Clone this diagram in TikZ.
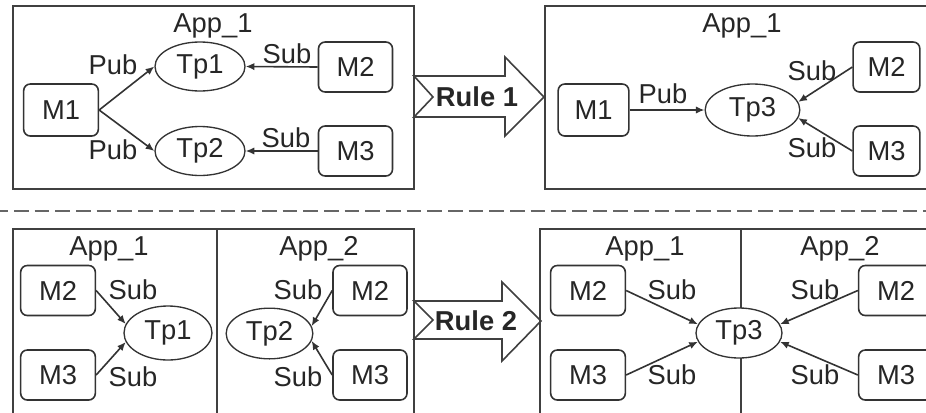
\documentclass[tikz,border=0pt]{standalone}
\usepackage{fontspec}
\setmainfont{Liberation Sans}
\usetikzlibrary{arrows.meta,shapes.geometric}
\tikzset{
  txt/.style={font=\fontsize{20.5}{24}\selectfont, text=black!85},
  frame/.style={draw=black!75, line width=1.4pt},
  module/.style={txt, draw=black!80, line width=1.2pt, rounded corners=5pt, fill=white,
    minimum height=37.5pt, minimum width=56pt, inner sep=0pt},
  topic/.style={txt, ellipse, draw=black!80, line width=1pt, fill=white, inner sep=0pt},
  lbl/.style={txt, anchor=base, inner sep=0pt},
  link/.style={draw=black!80, line width=1.2pt, -{Latex[length=6.5pt,width=5.5pt]}},
  rulearrow/.style={draw=black!75, line width=1.2pt, fill=white, line join=miter},
  rulelbl/.style={txt, font=\fontsize{20.5}{24}\selectfont\bfseries, inner sep=0pt},
  dashline/.style={draw=black!60, line width=2pt, dash pattern=on 11pt off 4.5pt, dash phase=5pt},
}
\begin{document}
\begin{tikzpicture}[x=0.75pt,y=-0.75pt]
\clip (0,0) rectangle (926,412);

% ---------- upper half: Rule 1 ----------
\draw[frame] (13,6) rectangle (414,189);
\node[lbl] (appA) at (213,32) {App\_1};
\node[module, minimum height=39pt] (m1a) at (61,110) {M1};
\node[module, minimum width=55.5pt] (m2a) at (355.5,67) {M2};
\node[module, minimum width=55.5pt] (m3a) at (355.5,151) {M3};
\node[topic, minimum width=67.5pt, minimum height=36.75pt] (tp1a) at (200,66.5) {Tp1};
\node[topic, minimum width=67.5pt, minimum height=36.75pt] (tp2a) at (200,151) {Tp2};
\draw[link] (m1a.east) -- (tp1a.west);
\draw[link] (m1a.east) -- (tp2a.west);
\draw[link] (m2a.west) -- (tp1a.east);
\draw[link] (m3a.west) -- (tp2a.east);
\node[lbl] (pubA1) at (113,74) {Pub};
\node[lbl] (pubA2) at (113,159) {Pub};
\node[lbl] (subA1) at (287,63) {Sub};
\node[lbl] (subA2) at (286,147) {Sub};

% Rule 1 arrow
\draw[rulearrow] (414,76) coordinate (r1tail) -- (505,76) -- (505,57) -- (544,97) coordinate (r1tip)
  -- (505,136) -- (505,117) -- (414,117) -- (433,97) -- cycle;
\node[rulelbl] (rule1) at (477,97) {Rule 1};

\draw[frame] (545,6) rectangle (940,189);
\node[lbl] (appB) at (742,32) {App\_1};
\node[module, minimum width=53pt, minimum height=39pt] (m1b) at (593.5,110) {M1};
\node[module, minimum width=50pt] (m2b) at (886.5,67) {M2};
\node[module, minimum width=50pt] (m3b) at (886.5,151) {M3};
\node[topic, minimum width=71pt, minimum height=39pt] (tp3b) at (752.5,110) {Tp3};
\draw[link] (m1b.east) -- (tp3b.west);
\draw[link] (m2b.west) -- (tp3b.10);
\draw[link] (m3b.west) -- (tp3b.350);
\node[lbl] (pubB) at (663,103) {Pub};
\node[lbl] (subB1) at (812,80) {Sub};
\node[lbl] (subB2) at (812,157) {Sub};

% separator
\draw[dashline] (0,211) -- (926,211);

% ---------- lower half: Rule 2 ----------
\draw[frame] (13,229) rectangle (414,420);
\draw[frame] (217,229) -- (217,420);
\node[lbl] (appC1) at (109,255) {App\_1};
\node[lbl] (appC2) at (319,255) {App\_2};
\node[module] (m2c) at (58,290.5) {M2};
\node[module] (m3c) at (58,375) {M3};
\node[topic, minimum width=66pt, minimum height=40.5pt] (tp1c) at (168,333) {Tp1};
\draw[link] (m2c.east) -- (tp1c.168);
\draw[link] (m3c.east) -- (tp1c.192);
\node[lbl] (subC1) at (133,299) {Sub};
\node[lbl] (subC2) at (133,386) {Sub};
\node[module, minimum width=55.5pt] (m2d) at (370,290.5) {M2};
\node[module, minimum width=55.5pt] (m3d) at (370,375) {M3};
\node[topic, minimum width=65pt, minimum height=38pt] (tp2d) at (269.5,333.5) {Tp2};
\draw[link] (m2d.west) -- (tp2d.10);
\draw[link] (m3d.west) -- (tp2d.350);
\node[lbl] (subD1) at (298,299) {Sub};
\node[lbl] (subD2) at (298,386) {Sub};

% Rule 2 arrow
\draw[rulearrow] (414,301) coordinate (r2tail) -- (502,301) -- (502,282) -- (541,321) coordinate (r2tip)
  -- (502,361) -- (502,339) -- (414,339) -- (433,320) -- cycle;
\node[rulelbl] (rule2) at (476,321) {Rule 2};

\draw[frame] (540,229) rectangle (940,420);
\draw[frame] (741,229) -- (741,420);
\node[lbl] (appE1) at (645,255) {App\_1};
\node[lbl] (appE2) at (840,255) {App\_2};
\node[module] (m2e) at (588,290.5) {M2};
\node[module] (m3e) at (588,375) {M3};
\node[module] (m2f) at (896,290.5) {M2};
\node[module] (m3f) at (896,375) {M3};
\node[topic, minimum width=64.5pt, minimum height=37.5pt] (tp3e) at (739,333) {Tp3};
\draw[link] (m2e.east) -- (tp3e.168);
\draw[link] (m3e.east) -- (tp3e.192);
\draw[link] (m2f.west) -- (tp3e.12);
\draw[link] (m3f.west) -- (tp3e.348);
\node[lbl] (subE1) at (672,299) {Sub};
\node[lbl] (subE2) at (672,384) {Sub};
\node[lbl] (subF1) at (815,299) {Sub};
\node[lbl] (subF2) at (815,384) {Sub};
\end{tikzpicture}
\end{document}
